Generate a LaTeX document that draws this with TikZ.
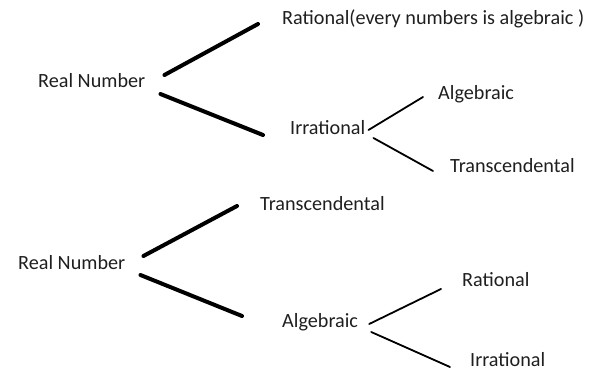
\documentclass[tikz,border=0pt]{standalone}
\usepackage{fontspec}
\setmainfont{Carlito}
\usepackage{tikz}

\begin{document}
\begin{tikzpicture}[x=1pt, y=-1pt, every node/.style={font=\fontsize{20.2}{23}\selectfont, text=black!88, inner sep=0pt, anchor=base west},
	trunk/.style={line width=4pt, line cap=round}, twig/.style={line width=1.8pt, line cap=round}]
	\useasboundingbox (0,0) rectangle (598,371);
	% first classification
	\node (rnA) at (38,88) {Real Number};
	\node (ratA) at (282,25) {Rational(every numbers is algebraic )};
	\node (irrA) at (290,135) {Irrational};
	\node (algA) at (438,100) {Algebraic};
	\node (traA) at (450,173) {Transcendental};
	\draw[trunk] ([shift={(19,-13)}]rnA.base east) -- ([shift={(-24,-1)}]ratA.base west);
	\draw[trunk] ([shift={(15,6)}]rnA.base east) -- ([shift={(-27,0)}]irrA.base west);
	\draw[twig] ([shift={(3,-5)}]irrA.base east) -- ([shift={(-15,-3)}]algA.base west);
	\draw[twig] ([shift={(8,3)}]irrA.base east) -- ([shift={(-17,-2)}]traA.base west);
	% second classification
	\node (rnB) at (18,270) {Real Number};
	\node (traB) at (260,211) {Transcendental};
	\node (algB) at (282,328) {Algebraic};
	\node (ratB) at (462,287) {Rational};
	\node (irrB) at (470,367) {Irrational};
	\draw[trunk] ([shift={(18,-14)}]rnB.base east) -- ([shift={(-23,-5)}]traB.base west);
	\draw[trunk] ([shift={(15,5)}]rnB.base east) -- ([shift={(-40,-12)}]algB.base west);
	\draw[twig] ([shift={(11,-4)}]algB.base east) -- ([shift={(-21,2)}]ratB.base west);
	\draw[twig] ([shift={(13,4)}]algB.base east) -- ([shift={(-20,0)}]irrB.base west);
\end{tikzpicture}
\end{document}
